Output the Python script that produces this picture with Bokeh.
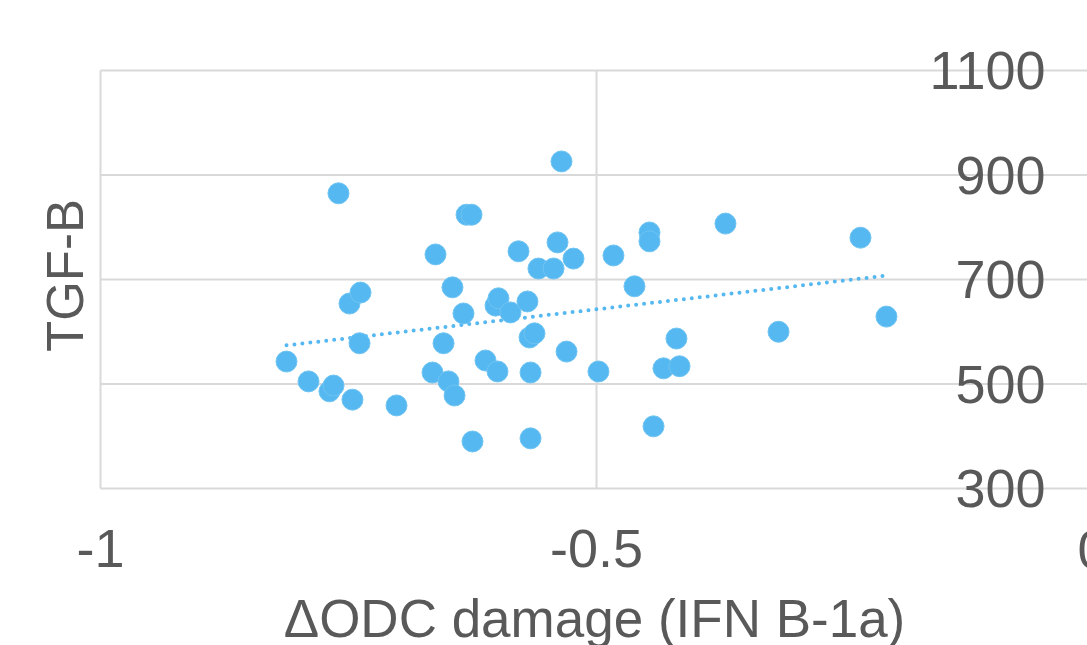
import numpy as np
from bokeh.plotting import figure
from bokeh.models import LinearAxis, FixedTicker, Label, Range1d, ColumnDataSource
from bokeh.embed import file_html
from bokeh.resources import INLINE

# Delta ODC damage (IFN B-1a) vs TGF-B
odc = [-0.8125, -0.7903, -0.7692, -0.7651, -0.7601, -0.7490, -0.7379, -0.7460,
       -0.7389, -0.7016, -0.6623, -0.6653, -0.6542, -0.6492, -0.6452, -0.6431,
       -0.6341, -0.6310, -0.6260, -0.6250, -0.6119, -0.6018, -0.5988, -0.5998,
       -0.5867, -0.5786, -0.5696, -0.5675, -0.5625, -0.5665, -0.5665, -0.5585,
       -0.5433, -0.5393, -0.5353, -0.5302, -0.5232, -0.4980, -0.4829, -0.4617,
       -0.4466, -0.4466, -0.4425, -0.4325, -0.4163, -0.4194, -0.3700, -0.3165,
       -0.2339, -0.2077]
tgf = [543, 505, 486, 497, 865, 654, 675, 470,
       578, 459, 748, 522, 578, 505, 685, 478,
       635, 824, 824, 390, 545, 650, 664, 524,
       637, 754, 658, 589, 597, 522, 396, 721,
       721, 771, 926, 562, 740, 524, 746, 687,
       790, 773, 419, 530, 534, 587, 807, 600,
       780, 629]

x_ticks = [-1, -0.5, 0]
x_tick_labels = ["-1", "-0.5", "0"]
y_ticks = [300, 500, 700, 900, 1100]
x_title = "\u0394ODC damage (IFN B-1a)"
y_title = "TGF-B"

BLUE = "#55B8F0"
GRID = "#d9d9d9"
TXT = "#595959"
FONT = "Liberation Sans"
TICK_FS = "54px"
TITLE_FS = "53px"

W, H = 1087, 645
PX_PER_X = 992.0          # pixels per x unit
PX_PER_Y = 418.0 / 800.0  # pixels per y unit
X0_PX, Y1100_PX = 100, 70

x_start = x_ticks[0] - X0_PX / PX_PER_X
x_end = x_ticks[0] + (W - X0_PX) / PX_PER_X
y_end = y_ticks[-1] + Y1100_PX / PX_PER_Y
y_start = y_end - H / PX_PER_Y

# linear trendline from the data
coef = np.polyfit(odc, tgf, 1)
tx = [min(odc), max(odc)]
ty = [coef[0] * v + coef[1] for v in tx]

p = figure(width=W, height=H, output_backend="svg", toolbar_location=None,
           x_range=Range1d(x_start, x_end), y_range=Range1d(y_start, y_end),
           x_axis_location=None, y_axis_location=None,
           min_border=0)
p.outline_line_color = None
p.xgrid.visible = False
p.ygrid.visible = False
p.background_fill_color = "white"
p.border_fill_color = "white"

# gridlines of the plot area (from the tick arrays)
hg = dict(x0=[x_ticks[0]] * len(y_ticks), x1=[x_ticks[-1]] * len(y_ticks),
          y0=y_ticks, y1=y_ticks)
vg = dict(x0=x_ticks, x1=x_ticks, y0=[y_ticks[0]] * len(x_ticks),
          y1=[y_ticks[-1]] * len(x_ticks))
p.segment("x0", "y0", "x1", "y1", source=ColumnDataSource(hg),
          line_color=GRID, line_width=2)
p.segment("x0", "y0", "x1", "y1", source=ColumnDataSource(vg),
          line_color=GRID, line_width=2)

# x axis crossing at y = 300
xa = LinearAxis(ticker=FixedTicker(ticks=x_ticks), fixed_location=y_ticks[0])
xa.major_label_overrides = {t: s for t, s in zip(x_ticks, x_tick_labels)}
xa.axis_line_color = None
xa.major_tick_line_color = None
xa.minor_tick_line_color = None
xa.major_label_text_font = FONT
xa.major_label_text_font_size = TICK_FS
xa.major_label_text_color = TXT
xa.major_label_standoff = 35
p.add_layout(xa, "below")

# y axis crossing at x = 0 (labels to its left)
ya = LinearAxis(ticker=FixedTicker(ticks=y_ticks), fixed_location=x_ticks[-1])
ya.axis_line_color = None
ya.major_tick_line_color = None
ya.minor_tick_line_color = None
ya.major_tick_out = 0
ya.major_label_text_font = FONT
ya.major_label_text_font_size = TICK_FS
ya.major_label_text_color = TXT
ya.major_label_standoff = 47
p.add_layout(ya, "left")

# "0" tick label of the x axis (its tick lies just past the page edge)
p.add_layout(Label(x=x_ticks[-1], y=y_ticks[0], text=x_tick_labels[-1],
                   text_align="center", text_baseline="alphabetic", y_offset=-61,
                   text_font=FONT, text_font_size=TICK_FS, text_color=TXT))

# axis titles
p.add_layout(Label(x=(x_ticks[0] + x_ticks[-1]) / 2, y=y_ticks[0], text=x_title,
                   text_align="center", text_baseline="alphabetic",
                   x_offset=-2, y_offset=-130,
                   text_font=FONT, text_font_size=TITLE_FS, text_color=TXT))
p.add_layout(Label(x=x_ticks[0], y=(y_ticks[0] + y_ticks[-1]) / 2, text=y_title,
                   angle=np.pi / 2, text_align="center", text_baseline="alphabetic",
                   x_offset=-35, y_offset=4,
                   text_font=FONT, text_font_size="51px", text_color=TXT))

src = ColumnDataSource(dict(x=odc, y=tgf))
p.line(tx, ty, line_color=BLUE, line_width=4, line_dash="0 8", line_cap="round")
p.scatter("x", "y", source=src, size=21, fill_color=BLUE, line_color="#6FC4F3",
          line_width=1)

open("out.html", "w").write(file_html(p, INLINE))
